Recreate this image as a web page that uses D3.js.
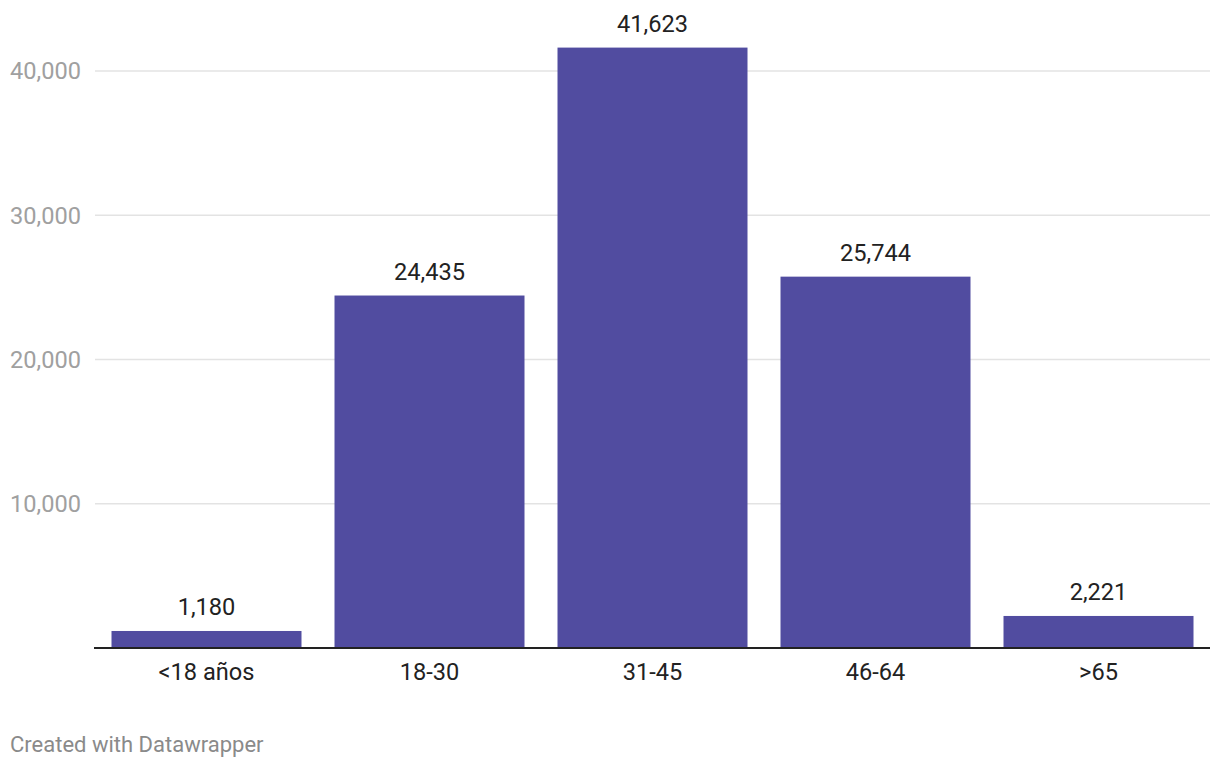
<!DOCTYPE html>
<html>
<head>
<meta charset="utf-8">
<script src="https://cdn.jsdelivr.net/npm/d3@7"></script>
<style>
  html, body { margin: 0; padding: 0; background: #fff; }
  svg { display: block; font-family: Roboto, "Noto Sans", sans-serif; }
</style>
</head>
<body>
<svg id="chart" width="1220" height="768"></svg>
<script>
const categories = ["<18 años", "18-30", "31-45", "46-64", ">65"];
const values = [1180, 24435, 41623, 25744, 2221];
const yTicks = [10000, 20000, 30000, 40000];
const footerText = "Created with Datawrapper";

const svg = d3.select("#chart");
const fmt = d3.format(",");

const x = d3.scaleBand()
  .domain(categories)
  .range([95, 1210])
  .paddingInner(0.148)
  .paddingOuter(0.074);

const y = d3.scaleLinear()
  .domain([0, 40000])
  .range([648, 71]);

// gridlines
svg.append("g").selectAll("line")
  .data(yTicks)
  .join("line")
  .attr("x1", 95).attr("x2", 1210)
  .attr("y1", d => y(d)).attr("y2", d => y(d))
  .attr("stroke", "#e3e3e3")
  .attr("stroke-width", 1.5);

// y labels
svg.append("g").selectAll("text")
  .data(yTicks)
  .join("text")
  .attr("x", 10)
  .attr("y", d => y(d))
  .attr("dy", "0.35em")
  .attr("fill", "#a0a0a0")
  .attr("font-size", 23.6)
  .text(d => fmt(d));

// bars
const data = categories.map((c, i) => ({ c, v: values[i] }));
svg.append("g").selectAll("rect")
  .data(data)
  .join("rect")
  .attr("x", d => x(d.c))
  .attr("width", x.bandwidth())
  .attr("y", d => y(d.v))
  .attr("height", d => y(0) - y(d.v))
  .attr("fill", "#514ca0");

// value labels
svg.append("g").selectAll("text")
  .data(data)
  .join("text")
  .attr("x", d => x(d.c) + x.bandwidth() / 2)
  .attr("y", d => y(d.v) - 16)
  .attr("text-anchor", "middle")
  .attr("fill", "#222")
  .attr("font-size", 23.6)
  .text(d => fmt(d.v));

// baseline
svg.append("line")
  .attr("x1", 94).attr("x2", 1210)
  .attr("y1", y(0)).attr("y2", y(0))
  .attr("stroke", "#222")
  .attr("stroke-width", 2);

// x labels
svg.append("g").selectAll("text")
  .data(categories)
  .join("text")
  .attr("x", d => x(d) + x.bandwidth() / 2)
  .attr("y", y(0) + 32)
  .attr("text-anchor", "middle")
  .attr("fill", "#222")
  .attr("font-size", 23.6)
  .text(d => d);

// footer
svg.append("text")
  .attr("x", 10)
  .attr("y", 752)
  .attr("fill", "#8a8a8a")
  .attr("font-size", 22)
  .text(footerText);
</script>
</body>
</html>
